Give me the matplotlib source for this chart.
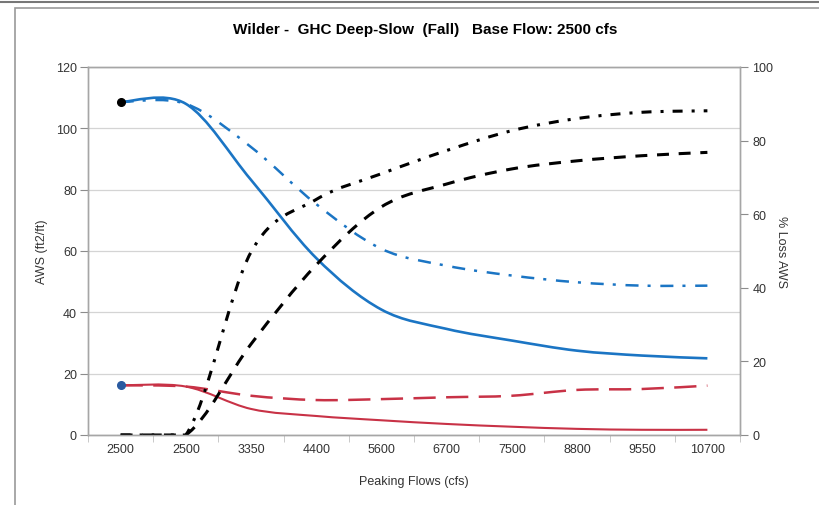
import numpy as np
import matplotlib
matplotlib.use("Agg")
import matplotlib.pyplot as plt
from matplotlib.path import Path
from matplotlib.patches import PathPatch, Rectangle
from matplotlib.lines import Line2D

# Category labels along the bottom axis (peaking flows, cfs)
flows = ["2500", "2500", "3350", "4400", "5600", "6700", "7500", "8800", "9550", "10700"]

# AWS (ft2/ft), left axis
aws_blue_solid = [108.6, 108.0, 83.2, 57.7, 40.9, 34.6, 30.8, 27.5, 25.9, 25.0]
aws_blue_dashdot = [108.6, 108.0, 93.9, 75.3, 60.7, 55.2, 52.0, 49.8, 48.7, 48.7]
aws_red_solid = [16.2, 15.8, 8.5, 6.2, 4.8, 3.6, 2.7, 2.0, 1.7, 1.7]
aws_red_dashed = [16.2, 15.8, 12.8, 11.4, 11.7, 12.3, 12.8, 14.7, 15.0, 16.1]

# % loss AWS, right axis
loss_dashdot = [0, 0, 49.7, 64.0, 71.0, 77.3, 82.7, 86.0, 87.7, 88.1]
loss_dashed = [0, 0, 24.7, 46.2, 62.0, 68.2, 72.3, 74.5, 75.9, 76.8]

BLUE = "#1b75c4"
RED = "#c83246"
GRAY = "#8c8c8c"
TXT = "#333333"

plt.rcParams["font.family"] = ["Liberation Sans", "DejaVu Sans"]
plt.rcParams["lines.scale_dashes"] = False


def smooth_path(x, y, k=1 / 6):
    """Excel-style smoothed line: cubic Bezier segments through the data points.
    Flat runs at zero are kept as straight segments."""
    pts = np.column_stack([x, y]).astype(float)
    n = len(pts)
    verts = [pts[0]]
    codes = [Path.MOVETO]
    for i in range(n - 1):
        p0 = pts[max(i - 1, 0)]
        p1 = pts[i]
        p2 = pts[i + 1]
        p3 = pts[min(i + 2, n - 1)]
        if p1[1] == p2[1] == 0:
            verts.append(p2)
            codes.append(Path.LINETO)
            continue
        verts += [p1 + (p2 - p0) * k, p2 - (p3 - p1) * k, p2]
        codes += [Path.CURVE4] * 3
    return Path(verts, codes)


def add_curve(ax, y, color, lw, ls):
    x = np.arange(len(y))
    patch = PathPatch(smooth_path(x, y), fill=False, edgecolor=color,
                      linewidth=lw, linestyle=ls, capstyle="butt", joinstyle="round")
    ax.add_patch(patch)


fig = plt.figure(figsize=(8.2, 5.06), dpi=100)
ax = fig.add_axes([88 / 820, 1 - 436 / 506, 652 / 820, 368 / 506])
ax2 = ax.twinx()

x = np.arange(len(flows))

# left axis series
add_curve(ax, aws_blue_dashdot, BLUE, 1.8, (0, (9.4, 6.5, 2.2, 7.0)))
add_curve(ax, aws_blue_solid, BLUE, 1.9, "-")
add_curve(ax, aws_red_dashed, RED, 1.8, (0, (16.0, 7.5)))
add_curve(ax, aws_red_solid, RED, 1.5, "-")
ax.plot(x[0], aws_blue_solid[0], "o", color="black", ms=5.5, zorder=5)
ax.plot(x[0], aws_red_solid[0], "o", color="#2a5aa0", ms=5.5, zorder=5)

# right axis series
add_curve(ax2, loss_dashdot, "black", 2.2, (0, (7.2, 6.5, 2.2, 6.5)))
add_curve(ax2, loss_dashed, "black", 2.2, (0, (8.6, 7.0)))

ax.set_xlim(-0.5, len(flows) - 0.5)
ax.set_ylim(0, 120)
ax2.set_ylim(0, 100)
ax.set_yticks(range(0, 121, 20))
ax2.set_yticks(range(0, 101, 20))

# category labels centred, tick marks on the boundaries
ax.set_xticks(x)
ax.set_xticklabels(flows)
ax.set_xticks(np.arange(-0.5, len(flows), 1), minor=True)
ax.tick_params(axis="x", which="major", length=0, pad=6, labelsize=9, labelcolor=TXT)
ax.tick_params(axis="x", which="minor", length=5, color="#c0c0c0")
ax.tick_params(axis="y", length=6, color=GRAY, labelsize=9, labelcolor=TXT, pad=2)
ax2.tick_params(axis="y", length=6, color=GRAY, labelsize=9, labelcolor=TXT, pad=3)

ax.grid(axis="y", color="#d4d4d4", linewidth=0.9)
ax.set_axisbelow(True)
for a in (ax, ax2):
    for s in a.spines.values():
        s.set_color("#a6a6a6")
        s.set_linewidth(1.0)

ax.set_ylabel("AWS (ft2/ft)", fontsize=9, color=TXT, labelpad=6)
ax2.set_ylabel("% Loss AWS", fontsize=9, color=TXT, rotation=270, labelpad=10)
ax.set_xlabel("Peaking Flows (cfs)", fontsize=9, color=TXT, labelpad=14)

fig.text(0.518, 1 - 30 / 506, "Wilder -  GHC Deep-Slow  (Fall)   Base Flow: 2500 cfs",
         ha="center", va="center", fontsize=11, fontweight="bold")

# outer chart frame
fig.add_artist(Rectangle((15 / 820, -0.05), 1.0, 1.05 - 9 / 506, transform=fig.transFigure,
                         fill=False, edgecolor="#9a9a9a", linewidth=1.2))
fig.add_artist(Line2D([0, 1], [1 - 3 / 506] * 2, color="#777777", linewidth=1.5))

fig.savefig("out.png", dpi=100)
